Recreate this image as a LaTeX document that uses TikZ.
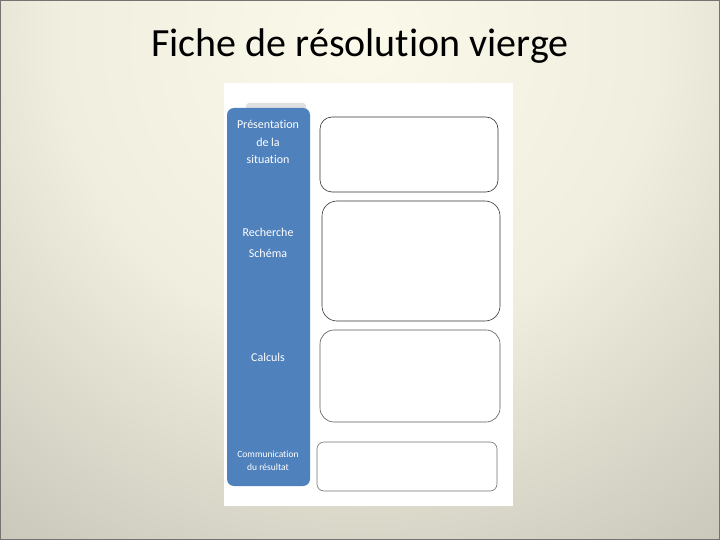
\documentclass[tikz,border=0pt]{standalone}
\usepackage{fontspec}
\setmainfont[Ligatures=NoCommon]{Carlito}
\usetikzlibrary{calc}
\definecolor{barblue}{RGB}{79,129,189}
\definecolor{bgA}{RGB}{251,249,233}
\definecolor{bgB}{RGB}{240,238,222}
\definecolor{bgC}{RGB}{210,208,194}
\definecolor{bgD}{RGB}{185,183,170}
\definecolor{bgE}{RGB}{152,150,136}
\definecolor{bgF}{RGB}{133,131,117}
\pgfdeclareradialshading{fond}{\pgfpoint{0bp}{0bp}}{color(0bp)=(bgA); color(6bp)=(bgB); color(11bp)=(bgC); color(15.5bp)=(bgD); color(19.5bp)=(bgE); color(25bp)=(bgF); color(50bp)=(bgF)}
\tikzset{
	cadre/.style={draw=black!80, line width=0.6pt, fill=white},
	etape/.style={text=white, align=center, font=\fontsize{12}{17.5}\selectfont}
}

\begin{document}
\begin{tikzpicture}[x=1pt,y=-1pt]
		\useasboundingbox (0,0) rectangle (720,540);
		\begin{scope}
			\clip (0,0) rectangle (720,540);
			\shade[shading=fond] (360,40) circle (1240);
		\end{scope}
		\draw[black!55, line width=1.5pt] (0,0) rectangle (720,540);
		\node (titre) at (360,46) {\fontsize{40}{42}\selectfont Fiche de résolution vierge};
		% feuille
		\fill[white] (224,83) rectangle (513,506);
		\fill[black!12, rounded corners=3] (246,103) rectangle (306,114);
		\fill[barblue, rounded corners=7] (227,108) rectangle (310,486);
		\node[etape] (pres) at (268,142) {Présentation\\de la\\situation};
		\node[etape, font=\fontsize{12}{21}\selectfont] (rech) at (268,243) {Recherche\\Schéma};
		\node[etape] (calc) at (268,357) {Calculs};
		\node[etape, font=\fontsize{9.5}{13}\selectfont] (comm) at (268,461) {Communication\\du résultat};
		% cases a remplir
		\draw[cadre, rounded corners=12] (320,117) rectangle (498,192);
		\draw[cadre, rounded corners=15] (322,201) rectangle (500,321);
		\draw[cadre, draw=black!65, rounded corners=14] (320,330) rectangle (500,422);
		\draw[cadre, draw=black!55, rounded corners=7] (317,442) rectangle (497,491);
	\end{tikzpicture}
\end{document}
